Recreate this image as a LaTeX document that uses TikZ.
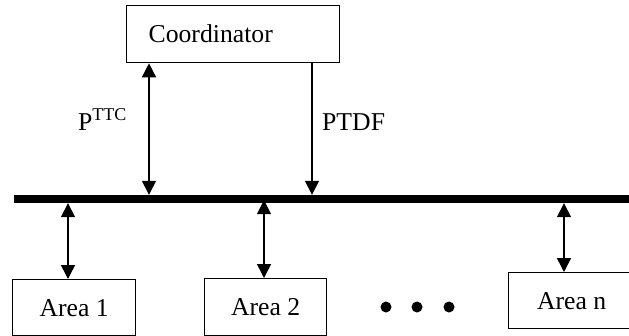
\documentclass[tikz,border=0pt]{standalone}
\usepackage{fontspec}
\setmainfont{Liberation Serif}
\usetikzlibrary{arrows.meta}
\begin{document}
\begin{tikzpicture}[x=1pt,y=-1pt,
  box/.style={draw, line width=1.3pt, inner sep=0pt, font=\fontsize{25.7}{30}\selectfont},
  conn/.style={line width=1.5pt, -{Triangle[length=14pt,width=14pt]}},
  dconn/.style={line width=1.5pt, {Triangle[length=14pt,width=14pt]}-{Triangle[length=14pt,width=14pt]}},
  lbl/.style={inner sep=0pt, anchor=base west, font=\fontsize{25.7}{30}\selectfont},
  dot/.style={circle, fill, inner sep=0pt, minimum size=11pt}]
\useasboundingbox (0,0) rectangle (629,335);
\clip (0,0) rectangle (629,335);
% coordinator
\node (coord) [box, anchor=north west, minimum height=57pt, text width=169pt, inner xsep=22pt, align=left] at (126,5) {Coordinator};
% bus
\node (bus) [fill, inner sep=0pt, minimum width=625pt, minimum height=8pt, anchor=west] at (14,199) {};
% areas
\node (a1) [box, anchor=north west, minimum width=123pt, minimum height=56pt] at (12,279) {Area 1};
\node (a2) [box, anchor=north west, minimum width=122pt, minimum height=57pt] at (204,278) {Area 2};
\node (an) [box, anchor=north west, minimum width=126pt, minimum height=56pt] at (508,272) {Area n};
% x positions
\coordinate (x1) at (149,0);
\coordinate (x2) at (312,0);
\coordinate (x3) at (68,0);
\coordinate (x4) at (264,0);
\coordinate (x5) at (564,0);
% connectors
\draw[dconn] (coord.south -| x1) -- (bus.north -| x1);
\draw[conn] (coord.south -| x2) -- (bus.north -| x2);
\draw[dconn] (bus.south -| x3) -- (a1.north -| x3);
\draw[dconn] ([yshift=3pt]bus.south -| x4) -- (a2.north -| x4);
\draw[dconn] (bus.south -| x5) -- (an.north -| x5);
% labels
\node (lp) [lbl] at (78,130) {P\textsuperscript{TTC}};
\node (lptdf) [lbl] at (322,130) {PTDF};
% dots
\node (d1) [dot] at (386,307) {};
\node (d2) [dot] at (417,307) {};
\node (d3) [dot] at (449,307) {};
\end{tikzpicture}
\end{document}
